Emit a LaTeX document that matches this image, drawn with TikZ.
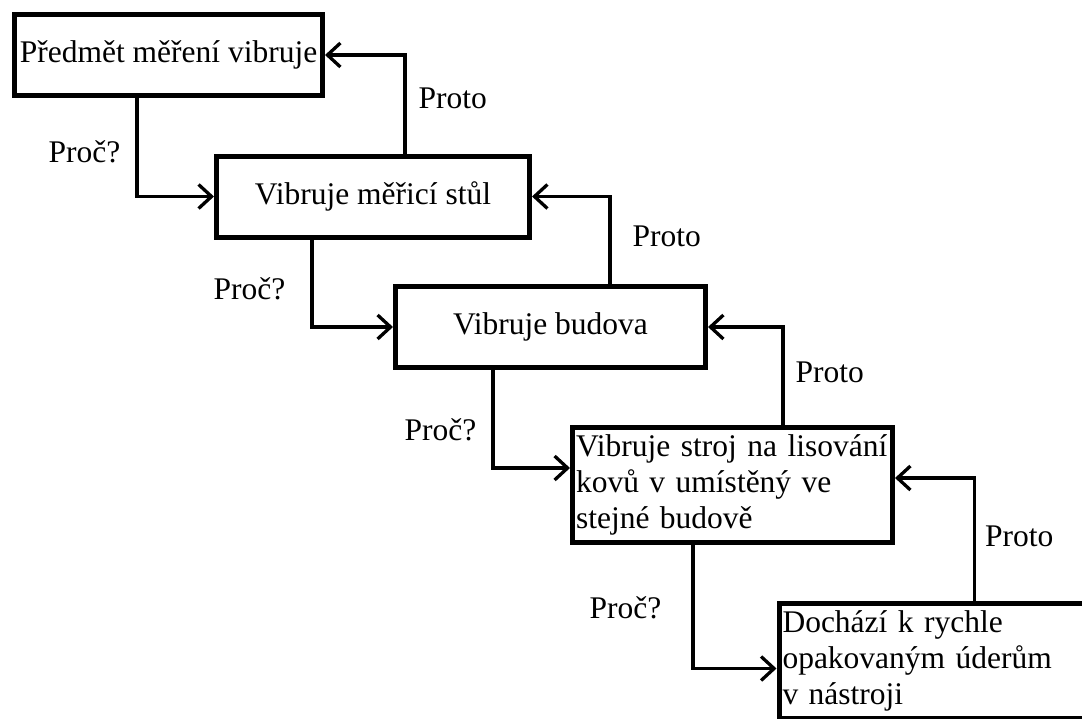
\documentclass[tikz,border=0pt]{standalone}
\usepackage{fontspec}
\setmainfont{Liberation Serif}
\usepackage{tikz}
\usetikzlibrary{arrows.meta,positioning,calc}

\begin{document}
\begin{tikzpicture}[x=1pt, y=1pt, font=\fontsize{31.5}{36}\selectfont,
    cause/.style={rectangle, draw, line width=5pt, inner sep=2pt, minimum height=81pt},
    longcause/.style={cause, text width=313pt, inner xsep=3.5pt, align=left, minimum height=115pt},
    why/.style={line width=3.3pt, -{Straight Barb[length=13pt, width=24pt]}},
    reply/.style={inner sep=0pt}]

    \clip (0,0) rectangle (1082,-718);

    % Causes
    \node[cause, minimum width=308pt] (b1) at (168.5,-55) {Předmět měření vibruje};
    \node[cause, minimum width=313pt] (b2) at (373,-196.5) {Vibruje měřicí stůl};
    \node[cause, minimum width=310pt] (b3) at (550.5,-327) {Vibruje budova};
    \node[longcause] (b4) at (732.5,-485) {Vibruje stroj na lisování\\kovů v umístěný ve\\stejné budově};
    \node[longcause, anchor=north west] (b5) at (776.5,-600.5) {Dochází k rychle\\opakovaným úderům\\v nástroji};

    % Proč?
    \draw[why] (b1.south) ++(-31.5,0) |- (b2) node[reply, pos=0.274, left=15pt] {Proč?};
    \draw[why] (b2.south) ++(-61,0) |- (b3) node[reply, pos=0.28, left=25pt] {Proč?};
    \draw[why] (b3.south) ++(-57.5,0) |- ([yshift=17pt]b4.west) node[reply, pos=0.306, left=15pt] {Proč?};
    \draw[why] (b4.south) ++(-39.5,0) |- ([yshift=-8pt]b5.west) node[reply, pos=0.256, left=30pt] {Proč?};

    % Proto
    \draw[why] (b2.north) ++(32,0) |- (b1) node[reply, pos=0.28, right=12pt] {Proto};
    \draw[why] (b3.north) ++(59.5,0) |- (b2) node[reply, pos=0.27, right=21pt] {Proto};
    \draw[why] (b4.north) ++(50.5,0) |- (b3) node[reply, pos=0.27, right=11pt] {Proto};
    \draw[why] (b5.north) ++(35.5,0) |- ([yshift=7pt]b4.east) node[reply, pos=0.26, right=9pt] {Proto};

\end{tikzpicture}
\end{document}
